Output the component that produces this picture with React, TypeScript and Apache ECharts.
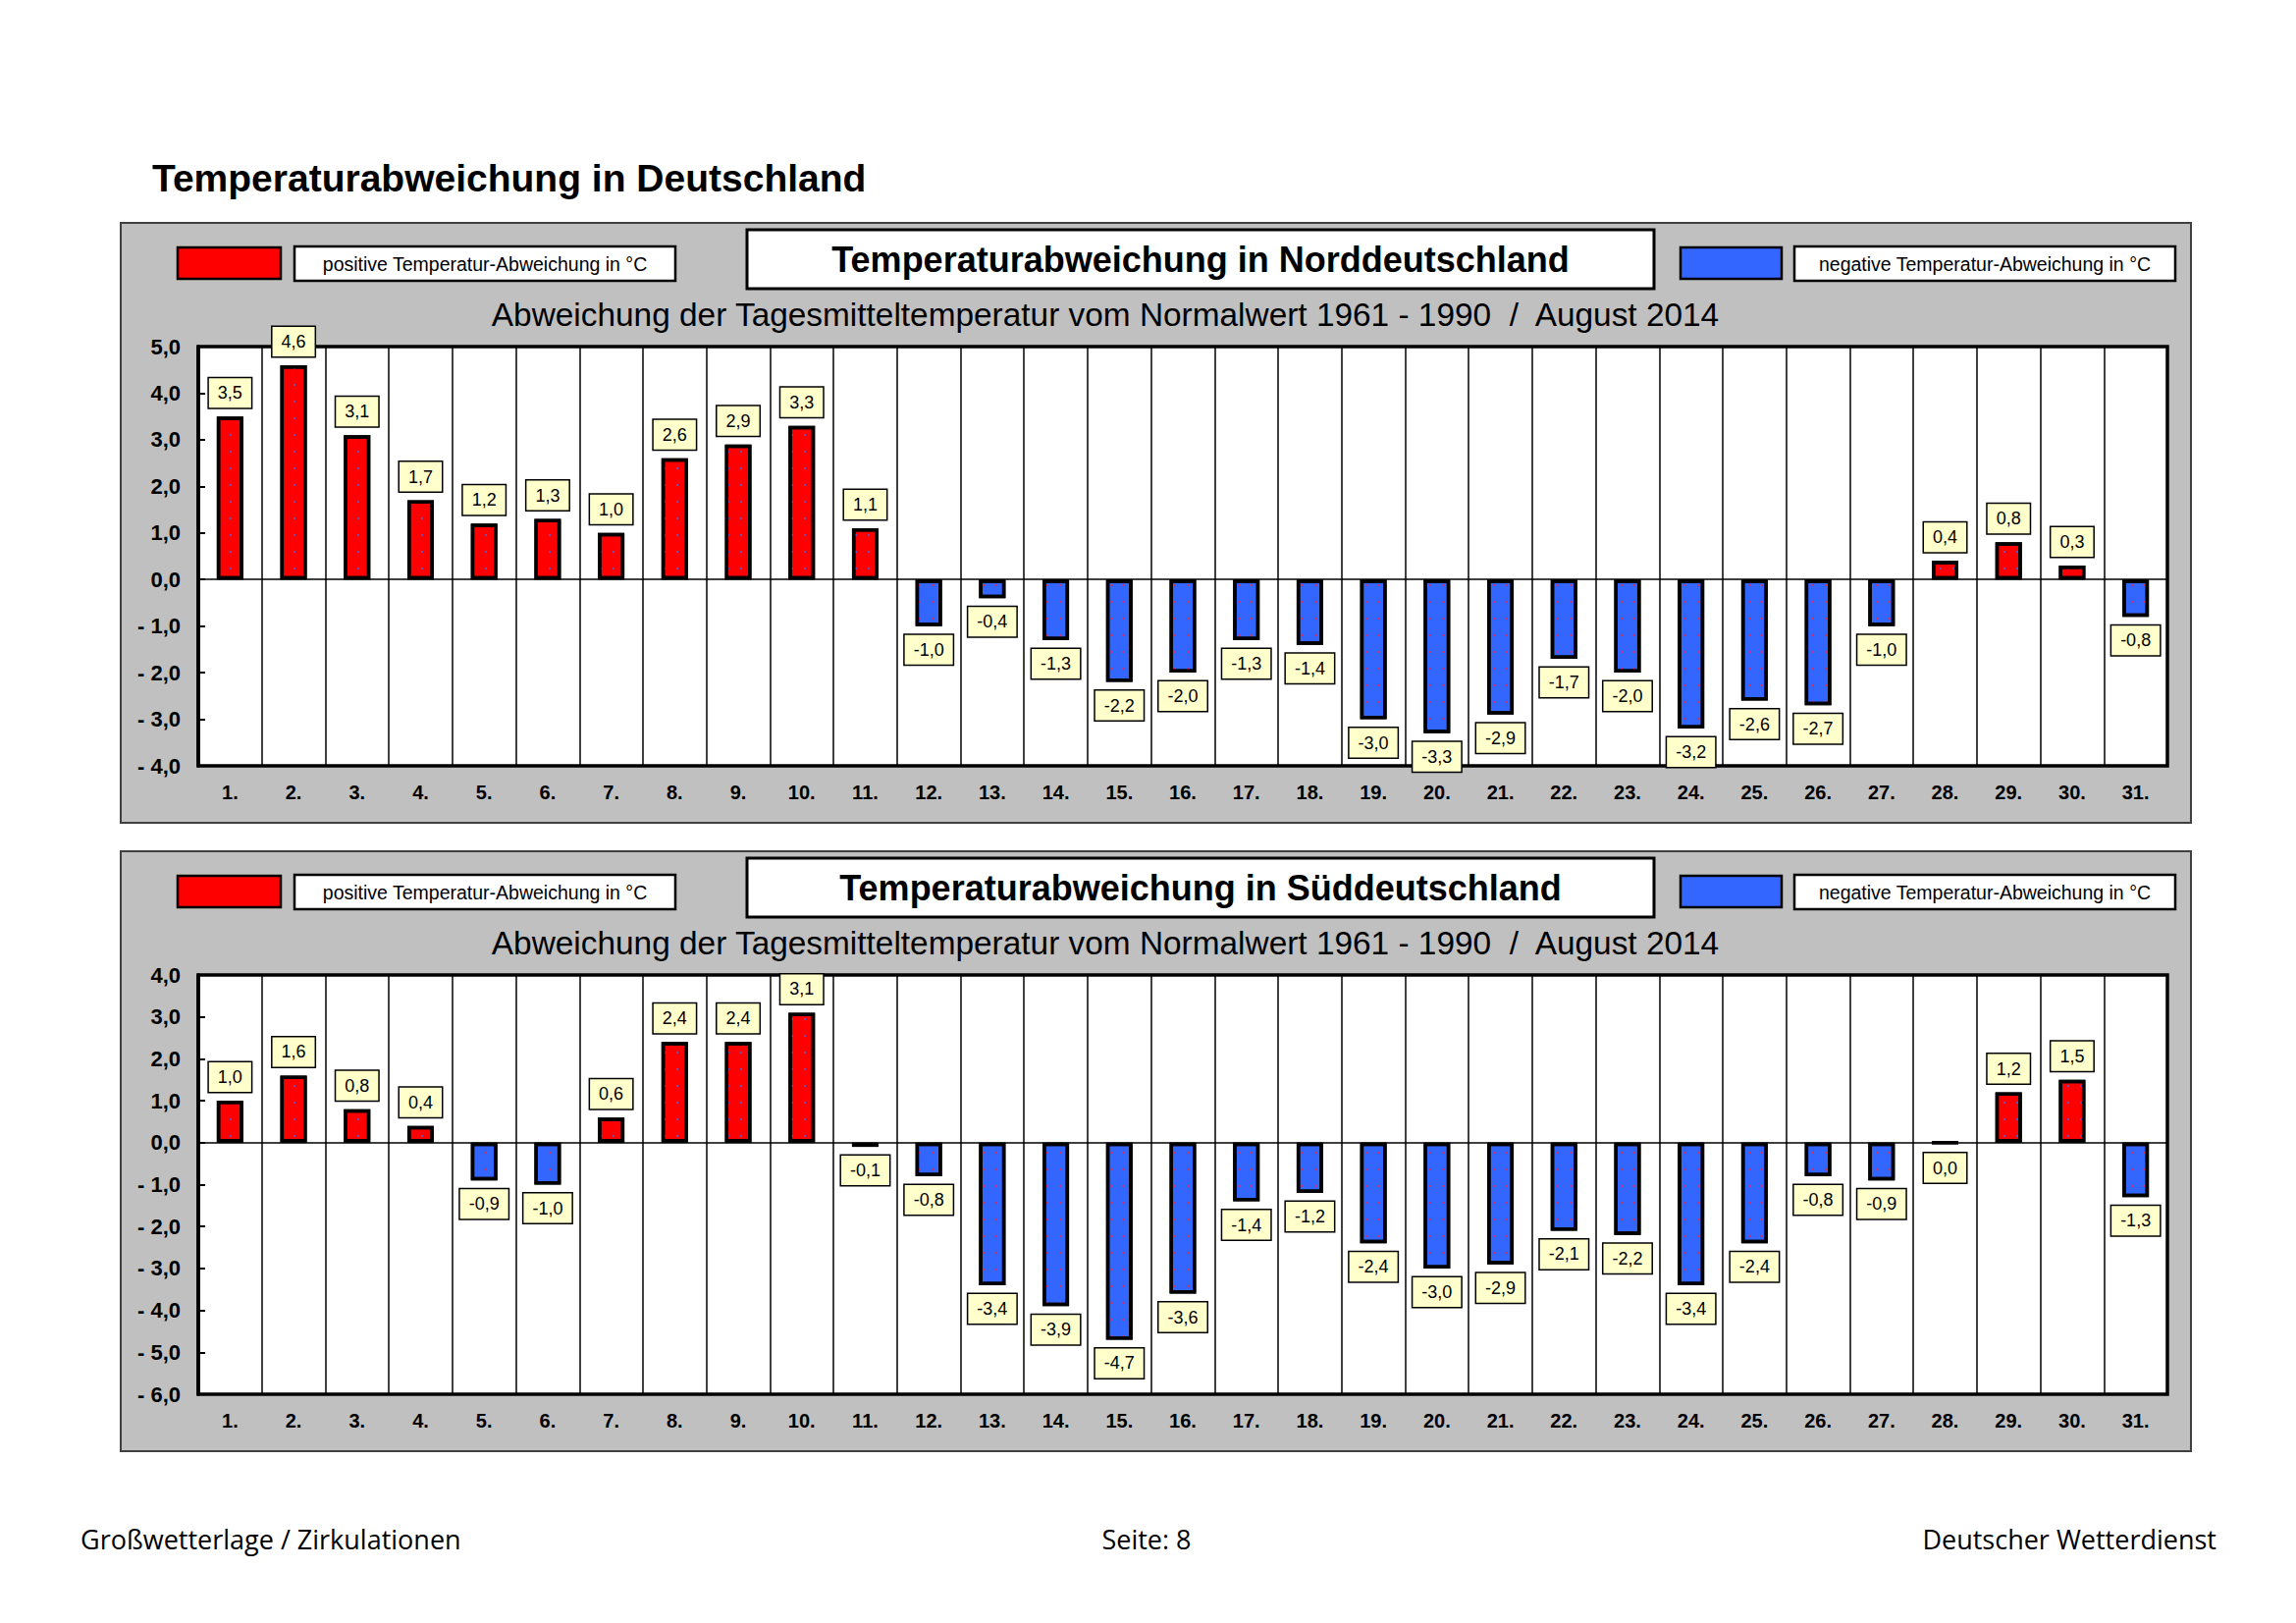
import React, { useEffect, useRef } from "react";
import * as echarts from "echarts";

const days = [
  "1.", "2.", "3.", "4.", "5.", "6.", "7.", "8.", "9.", "10.",
  "11.", "12.", "13.", "14.", "15.", "16.", "17.", "18.", "19.", "20.",
  "21.", "22.", "23.", "24.", "25.", "26.", "27.", "28.", "29.", "30.", "31.",
];

const northValues = [
  3.5, 4.6, 3.1, 1.7, 1.2, 1.3, 1.0, 2.6, 2.9, 3.3,
  1.1, -1.0, -0.4, -1.3, -2.2, -2.0, -1.3, -1.4, -3.0, -3.3,
  -2.9, -1.7, -2.0, -3.2, -2.6, -2.7, -1.0, 0.4, 0.8, 0.3, -0.8,
];

const southValues = [
  1.0, 1.6, 0.8, 0.4, -0.9, -1.0, 0.6, 2.4, 2.4, 3.1,
  -0.1, -0.8, -3.4, -3.9, -4.7, -3.6, -1.4, -1.2, -2.4, -3.0,
  -2.9, -2.1, -2.2, -3.4, -2.4, -0.8, -0.9, 0.0, 1.2, 1.5, -1.3,
];

const northAxis = { min: -4, max: 5, interval: 1 };
const southAxis = { min: -6, max: 4, interval: 1 };

const mainTitle = "Temperaturabweichung in Deutschland";
const northTitle = "Temperaturabweichung in Norddeutschland";
const southTitle = "Temperaturabweichung in Süddeutschland";
const subTitle = "Abweichung der Tagesmitteltemperatur vom Normalwert 1961 - 1990  /  August 2014";
const posLegend = "positive Temperatur-Abweichung in °C";
const negLegend = "negative Temperatur-Abweichung in °C";
const footerLeft = "Großwetterlage / Zirkulationen";
const footerCenter = "Seite: 8";
const footerRight = "Deutscher Wetterdienst";

const FONT = '"Liberation Sans", Arial, Helvetica, sans-serif';
const FOOT_FONT = '"Open Sans", "Noto Sans", sans-serif';
const RED = "#FF0000";
const BLUE = "#3366FF";

const fmt = (v: number) => v.toFixed(1).replace(".", ",");
const fmtAxis = (v: number) => (v < 0 ? "- " + fmt(-v) : fmt(v));

function txt(x: number, y: number, text: string, size: number, weight: string, align: string, family = FONT) {
  return {
    type: "text",
    z: 5,
    style: {
      x,
      y,
      text,
      fill: "#000",
      fontSize: size,
      fontWeight: weight,
      fontFamily: family,
      textAlign: align,
      align,
      textVerticalAlign: "middle",
      verticalAlign: "middle",
    },
  };
}

function panelGraphics(dy: number, title: string) {
  return [
    {
      type: "rect",
      z: -10,
      shape: { x: 123, y: 227 + dy, width: 2109, height: 611 },
      style: { fill: "#C0C0C0", stroke: "#404040", lineWidth: 2 },
    },
    {
      type: "rect",
      z: 4,
      shape: { x: 181, y: 252 + dy, width: 105, height: 32 },
      style: { fill: RED, stroke: "#000", lineWidth: 2.5 },
    },
    {
      type: "rect",
      z: 4,
      shape: { x: 300, y: 251 + dy, width: 388, height: 35 },
      style: { fill: "#fff", stroke: "#000", lineWidth: 2.5 },
    },
    txt(494, 268.5 + dy, posLegend, 19.5, "normal", "center"),
    {
      type: "rect",
      z: 4,
      shape: { x: 761, y: 234 + dy, width: 924, height: 60 },
      style: { fill: "#fff", stroke: "#000", lineWidth: 3 },
    },
    txt(1223, 264 + dy, title, 36, "bold", "center"),
    {
      type: "rect",
      z: 4,
      shape: { x: 1712, y: 252 + dy, width: 103, height: 32 },
      style: { fill: BLUE, stroke: "#000", lineWidth: 2.5 },
    },
    {
      type: "rect",
      z: 4,
      shape: { x: 1828, y: 251 + dy, width: 388, height: 35 },
      style: { fill: "#fff", stroke: "#000", lineWidth: 2.5 },
    },
    txt(2022, 268.5 + dy, negLegend, 19.5, "normal", "center"),
    txt(1126, 320 + dy, subTitle, 33.4, "normal", "center"),
  ];
}

function makeSeries(values: number[], idx: number) {
  return {
    type: "bar",
    xAxisIndex: idx,
    yAxisIndex: idx,
    barWidth: 27,
    z: 3,
    data: values.map((v) => ({
      value: v,
      itemStyle: {
        color: v > 0 ? RED : BLUE,
        decal: {
          symbol: "rect",
          symbolSize: 1,
          color: v > 0 ? "rgba(90,90,200,0.85)" : "rgba(220,40,90,0.85)",
          dashArrayX: [2, 11],
          dashArrayY: [2, 15],
        },
      },
      label: { position: v > 0 ? "top" : "bottom" },
    })),
    itemStyle: { borderColor: "#000", borderWidth: 3.5 },
    label: {
      show: true,
      distance: 9,
      formatter: (p: any) => fmt(p.value),
      color: "#000",
      fontFamily: FONT,
      fontSize: 18,
      lineHeight: 20,
      backgroundColor: "#FFFFCC",
      borderColor: "#000",
      borderWidth: 1.5,
      padding: [5, 9, 5, 9],
    },
    markLine: {
      silent: true,
      symbol: ["none", "none"],
      label: { show: false },
      lineStyle: { color: "#000", width: 1.5, type: "solid" },
      data: [{ yAxis: 0 }],
    },
  };
}

function makeXAxis(idx: number) {
  return {
    type: "category",
    gridIndex: idx,
    data: days,
    axisLine: { show: false },
    axisTick: { show: false },
    splitLine: { show: true, lineStyle: { color: "#000", width: 1.5 } },
    axisLabel: {
      margin: 17,
      color: "#000",
      fontFamily: FONT,
      fontWeight: "bold",
      fontSize: 20,
      interval: 0,
    },
  };
}

function makeYAxis(idx: number, range: { min: number; max: number; interval: number }) {
  return {
    type: "value",
    gridIndex: idx,
    min: range.min,
    max: range.max,
    interval: range.interval,
    axisLine: { show: true, lineStyle: { color: "#000", width: 3.5 } },
    axisTick: { show: true, inside: true, length: 7, lineStyle: { color: "#000", width: 2 } },
    splitLine: { show: false },
    axisLabel: {
      margin: 18,
      color: "#000",
      fontFamily: FONT,
      fontWeight: "bold",
      fontSize: 22,
      formatter: (v: number) => fmtAxis(v),
    },
  };
}

export default function App() {
  const ref = useRef<HTMLDivElement>(null);
  useEffect(() => {
    if (!ref.current) return;
    const chart = echarts.init(ref.current, undefined, { renderer: "svg" });
    const option: any = {
      animation: false,
      backgroundColor: "#fff",
      grid: [
        {
          left: 202, top: 353, width: 2006, height: 427,
          show: true, backgroundColor: "#fff", borderColor: "#000", borderWidth: 3.5,
        },
        {
          left: 202, top: 993, width: 2006, height: 427,
          show: true, backgroundColor: "#fff", borderColor: "#000", borderWidth: 3.5,
        },
      ],
      xAxis: [makeXAxis(0), makeXAxis(1)],
      yAxis: [makeYAxis(0, northAxis), makeYAxis(1, southAxis)],
      series: [makeSeries(northValues, 0), makeSeries(southValues, 1)],
      graphic: [
        txt(155, 181, mainTitle, 39, "bold", "left"),
        ...panelGraphics(0, northTitle),
        ...panelGraphics(640, southTitle),
        txt(82, 1567, footerLeft, 27, "normal", "left", FOOT_FONT),
        txt(1168, 1567, footerCenter, 27, "normal", "center", FOOT_FONT),
        txt(2258, 1567, footerRight, 27, "normal", "right", FOOT_FONT),
      ],
    };
    chart.setOption(option);
    return () => chart.dispose();
  }, []);
  return (
    <div
      ref={ref}
      style={{ position: "absolute", left: 0, top: 0, width: 2339, height: 1653, background: "#fff" }}
    />
  );
}
